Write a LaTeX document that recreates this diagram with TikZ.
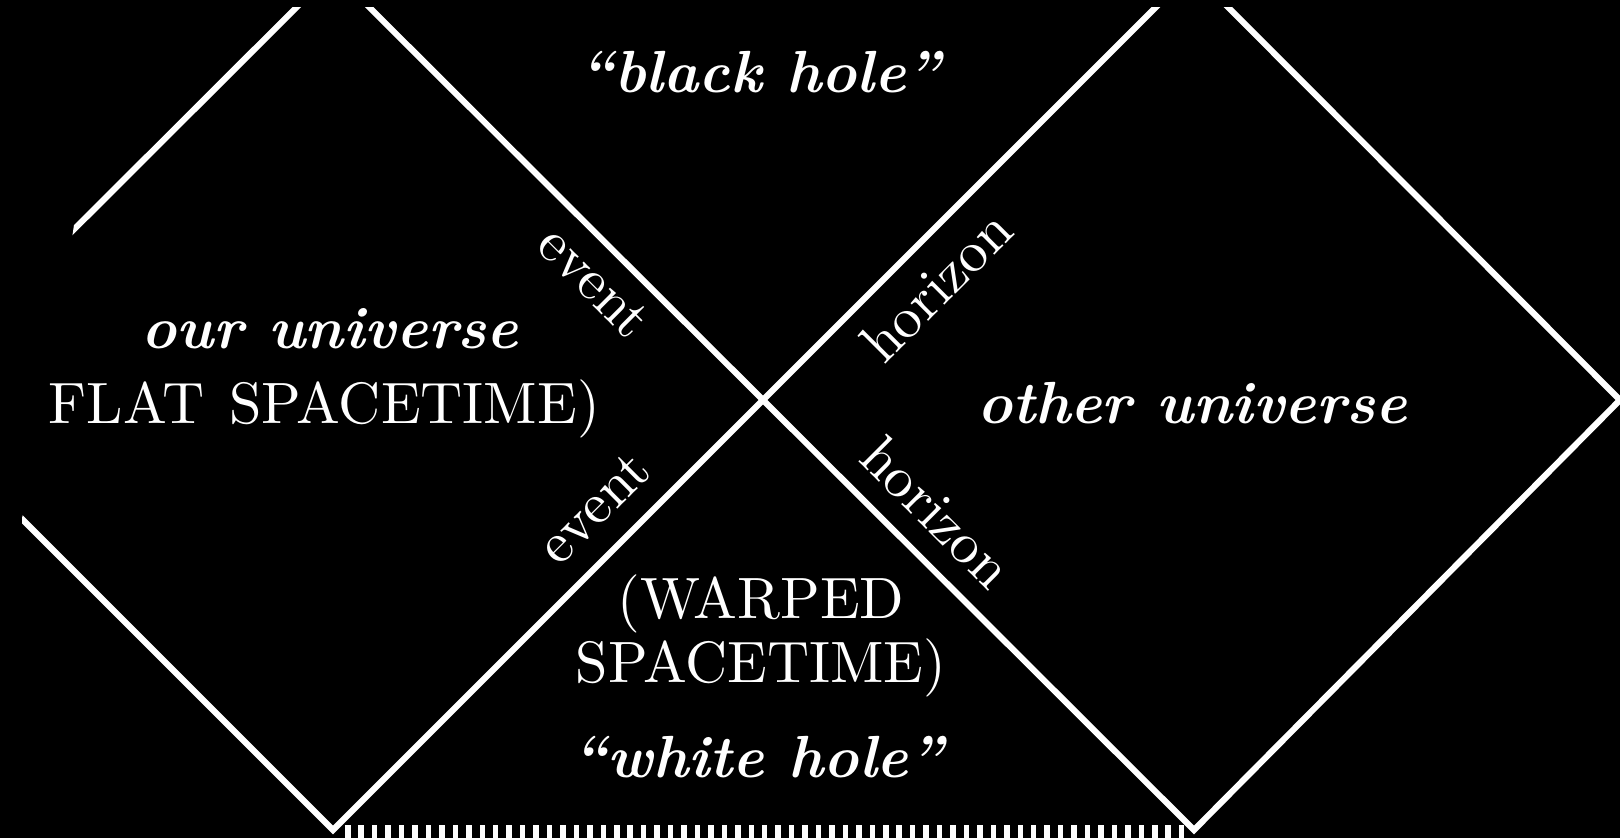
\documentclass[tikz,border=0pt]{standalone}
\begin{document}
\begin{tikzpicture}[x=0.18pt,y=-0.18pt,
  edge/.style={white,line width=1.1pt,line join=miter},
  big/.style={text=white,inner sep=0pt,font=\fontsize{10.7}{13}\selectfont\bfseries\itshape},
  rom/.style={text=white,inner sep=0pt,font=\fontsize{10.5}{12}\selectfont},
  hor/.style={text=white,inner sep=0pt,font=\fontsize{10.4}{13}\selectfont},
  hatch/.style={fill=white}]
\fill[black] (0,0) rectangle (1620,838);
\useasboundingbox (0,0) rectangle (1620,838);
\coordinate (C) at (762,400);
\coordinate (LT) at (333,-29);
\coordinate (LB) at (333,830);
\coordinate (LL) at (-97,400);
\coordinate (RT) at (1192,-29);
\coordinate (RB) at (1194,830);
\coordinate (RR) at (1620,400);
\begin{scope}
\clip (74,7) -- (74,225) -- (42,438) -- (22,518) -- (22,838) -- (1620,838) -- (1620,7) -- cycle;
\draw[edge] (LL) -- (LT) -- (RB) -- (RR) -- (RT) -- (LB) -- cycle;
\end{scope}
\foreach \i in {0,...,62}
  \fill[hatch] ({345+13.45*\i},825) rectangle ({350.5+13.45*\i},838);
\node[big] (bh) at (760,72) {\textquotedblleft black hole\textquotedblright};
\node[big] (ou) at (330,329) {our universe};
\node[rom, anchor=east] (flat) at (601,409) {FLAT\hspace{0.43em}SPACETIME)};
\node[big] (oth) at (1192,403) {other universe};
\node[rom] (warp1) at (761,604) {(WARPED};
\node[rom] (warp2) at (761,668) {SPACETIME)};
\node[big] (wh) at (758,757) {\textquotedblleft white hole\textquotedblright};
\node[hor, rotate=-45] (ev1) at (594,282) {event};
\node[hor, rotate=45] (ev2) at (594,508) {event};
\node[hor, rotate=45] (ho1) at (936,286) {horizon};
\node[hor, rotate=-45] (ho2) at (937,512) {horizon};
\end{tikzpicture}
\end{document}
